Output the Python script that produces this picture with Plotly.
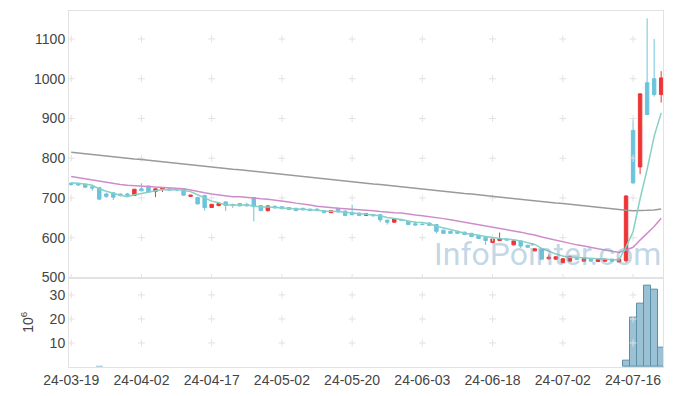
import plotly.graph_objects as go
from plotly.subplots import make_subplots

dates = [
    "24-03-19", "24-03-20", "24-03-21", "24-03-22", "24-03-25", "24-03-26", "24-03-27", "24-03-28", "24-03-29",
    "24-04-01", "24-04-02", "24-04-03", "24-04-04", "24-04-05", "24-04-08", "24-04-09", "24-04-11", "24-04-12",
    "24-04-15", "24-04-16", "24-04-17", "24-04-18", "24-04-19", "24-04-22", "24-04-23", "24-04-24", "24-04-25",
    "24-04-26", "24-04-29", "24-04-30",
    "24-05-02", "24-05-03", "24-05-07", "24-05-08", "24-05-09", "24-05-10", "24-05-13", "24-05-14", "24-05-16",
    "24-05-17", "24-05-20", "24-05-21", "24-05-22", "24-05-23", "24-05-24", "24-05-27", "24-05-28", "24-05-29",
    "24-05-30", "24-05-31",
    "24-06-03", "24-06-04", "24-06-05", "24-06-07", "24-06-10", "24-06-11", "24-06-12", "24-06-13", "24-06-14",
    "24-06-17", "24-06-18", "24-06-19", "24-06-20", "24-06-21", "24-06-24", "24-06-25", "24-06-26", "24-06-27",
    "24-06-28",
    "24-07-01", "24-07-02", "24-07-03", "24-07-04", "24-07-05", "24-07-08", "24-07-09", "24-07-10", "24-07-11",
    "24-07-12", "24-07-15", "24-07-16", "24-07-17", "24-07-18", "24-07-19", "24-07-22",
]

opens = [737, 736, 734, 728, 726, 710, 713, 710, 710, 706, 723, 730, 716, 721, 723, 722, 723, 704, 701, 706,
         676, 681, 690, 683, 686, 684, 701, 681, 668, 679, 678, 676, 674, 674, 672, 672, 668, 663, 674, 667,
         663, 662, 656, 658, 658, 644, 639, 646, 641, 635, 634, 637, 633, 619, 616, 616, 614, 611, 606, 601,
         588, 593, 597, 582, 592, 581, 567, 572, 547, 546, 537, 541, 547, 541, 546, 540, 541, 546, 539, 542,
         870, 778, 990, 1000, 960]
highs = [740, 739, 736, 730, 727, 713, 714, 711, 713, 722, 737, 731, 724, 727, 724, 724, 724, 708, 703, 708,
         685, 689, 692, 686, 687, 688, 702, 682, 682, 681, 679, 677, 675, 675, 673, 673, 669, 669, 676, 668,
         683, 663, 661, 659, 659, 646, 649, 647, 642, 641, 636, 638, 634, 620, 617, 617, 615, 612, 607, 602,
         598, 613, 599, 593, 593, 582, 573, 573, 558, 553, 548, 555, 548, 548, 547, 546, 547, 547, 547, 707,
         898, 962, 1152, 1100, 1019]
lows = [731, 730, 725, 718, 696, 700, 695, 704, 703, 705, 717, 714, 702, 715, 719, 718, 706, 703, 684, 668,
        675, 679, 667, 675, 679, 679, 641, 667, 666, 674, 672, 670, 667, 669, 667, 667, 662, 662, 663, 655,
        656, 655, 655, 654, 639, 633, 638, 643, 632, 631, 632, 630, 611, 610, 610, 610, 607, 602, 597, 582,
        587, 592, 593, 581, 574, 575, 566, 545, 545, 545, 536, 540, 545, 540, 540, 539, 540, 540, 538, 538,
        735, 760, 908, 955, 940]
closes = [734, 733, 727, 725, 697, 704, 702, 706, 707, 722, 718, 715, 723, 725, 720, 720, 707, 707, 685, 676,
          684, 686, 681, 681, 680, 680, 678, 668, 680, 675, 673, 671, 668, 670, 668, 668, 663, 668, 665, 656,
          658, 656, 660, 655, 645, 639, 648, 644, 633, 632, 633, 631, 616, 611, 611, 611, 608, 603, 598, 593,
          597, 597, 594, 592, 579, 576, 572, 546, 551, 552, 547, 552, 546, 547, 541, 545, 546, 541, 546, 705,
          738, 962, 910, 960, 1002]

ma5 = [738, 737, 735, 732, 723, 717, 711, 707, 703, 708, 711, 714, 717, 721, 720, 721, 719, 716, 708, 699,
       692, 688, 682, 682, 682, 682, 680, 677, 677, 676, 675, 673, 673, 671, 670, 669, 667, 667, 666, 664,
       662, 661, 659, 657, 655, 651, 649, 646, 642, 639, 638, 635, 629, 625, 620, 616, 611, 609, 606, 603,
       600, 598, 596, 595, 592, 588, 583, 573, 565, 559, 554, 550, 550, 549, 547, 546, 545, 544, 544, 577,
       615, 698, 772, 855, 914]
ma20 = [754, 751, 748, 745, 742, 739, 736, 734, 732, 731, 730, 729, 728, 727, 726, 725, 723, 720, 716, 713,
        710, 708, 706, 703, 703, 701, 700, 698, 697, 695, 692, 690, 687, 685, 682, 679, 677, 675, 674, 673,
        672, 670, 669, 668, 666, 664, 663, 662, 659, 657, 655, 653, 650, 648, 645, 642, 639, 636, 632, 629,
        626, 623, 620, 617, 614, 610, 607, 602, 598, 594, 589, 585, 582, 579, 575, 572, 569, 566, 563, 569,
        576, 594, 610, 628, 649]
ma120 = [815, 813, 811, 809, 808, 806, 804, 802, 800, 798, 797, 795, 793, 791, 789, 787, 785, 784, 782, 780,
         778, 776, 774, 772, 771, 769, 767, 765, 763, 761, 760, 758, 756, 754, 752, 750, 748, 747, 745, 743,
         741, 739, 737, 735, 734, 732, 730, 728, 726, 724, 723, 721, 719, 717, 715, 713, 711, 710, 708, 706,
         704, 702, 700, 698, 697, 695, 693, 691, 689, 687, 686, 684, 682, 680, 678, 676, 674, 673, 671, 669,
         668, 668, 669, 670, 672]

volume_m = [0.03, 0.03, 0.03, 0.03, 0.45, 0.03, 0.03, 0.03, 0.03, 0.03, 0.03, 0.03, 0.03, 0.03, 0.03, 0.03,
            0.03, 0.03, 0.03, 0.03, 0.03, 0.03, 0.03, 0.03, 0.03, 0.03, 0.03, 0.03, 0.03, 0.03, 0.03, 0.03,
            0.03, 0.03, 0.03, 0.03, 0.03, 0.03, 0.03, 0.03, 0.03, 0.03, 0.03, 0.03, 0.03, 0.03, 0.03, 0.03,
            0.03, 0.03, 0.03, 0.03, 0.03, 0.03, 0.03, 0.03, 0.03, 0.03, 0.03, 0.03, 0.03, 0.03, 0.03, 0.03,
            0.03, 0.03, 0.03, 0.03, 0.03, 0.03, 0.03, 0.03, 0.03, 0.03, 0.03, 0.03, 0.03, 0.03, 0.03,
            2.5, 20.7, 26.5, 33.8, 32.2, 7.9]

price_ticks = [500, 600, 700, 800, 900, 1000, 1100]
vol_ticks = [10, 20, 30]
tick_dates = dates[::10]

RED = "#ee3535"
BLUE = "#6cc4dc"
GRID = "#e2e2e2"
AXIS = "#e2e2e2"
FONT = dict(family="Liberation Sans, Arial, sans-serif", size=14, color="#444444")

fig = make_subplots(rows=2, cols=1, shared_xaxes=True, vertical_spacing=0,
                    row_heights=[0.749, 0.251])

# grid crosses
gx, gy = [], []
for d in tick_dates:
    for p in price_ticks:
        gx.append(d)
        gy.append(p)
fig.add_trace(go.Scatter(x=gx, y=gy, mode="markers", hoverinfo="skip", showlegend=False,
                         marker=dict(symbol="cross-thin", size=5, line=dict(width=1, color=GRID))),
              row=1, col=1)
vx, vy = [], []
for d in tick_dates:
    for v in vol_ticks:
        vx.append(d)
        vy.append(v)
fig.add_trace(go.Scatter(x=vx, y=vy, mode="markers", hoverinfo="skip", showlegend=False,
                         marker=dict(symbol="cross-thin", size=5, line=dict(width=1, color=GRID))),
              row=2, col=1)

fig.add_trace(go.Candlestick(
    x=dates, open=opens, high=highs, low=lows, close=closes,
    increasing=dict(line=dict(color=RED, width=1), fillcolor=RED),
    decreasing=dict(line=dict(color=BLUE, width=1), fillcolor=BLUE),
    whiskerwidth=0, showlegend=False), row=1, col=1)

fig.add_trace(go.Scatter(x=dates, y=ma120, mode="lines", line=dict(color="#9a9a9a", width=1.5),
                         showlegend=False), row=1, col=1)
fig.add_trace(go.Scatter(x=dates, y=ma20, mode="lines", line=dict(color="#cf8ccc", width=1.5),
                         showlegend=False), row=1, col=1)
fig.add_trace(go.Scatter(x=dates, y=ma5, mode="lines", line=dict(color="#86d0c4", width=1.5),
                         showlegend=False), row=1, col=1)

fig.add_trace(go.Bar(x=dates, y=volume_m, showlegend=False,
                     marker=dict(color="rgba(150,190,210,0.95)",
                                 line=dict(color="#5b8fa8", width=[1 if v > 1 else 0 for v in volume_m]))),
              row=2, col=1)

xr = [-0.31, 84.26]
fig.update_xaxes(type="category", categoryorder="array", categoryarray=dates,
                 range=xr, showgrid=False, zeroline=False, automargin=False,
                 showline=True, linecolor=AXIS, linewidth=1, mirror=True, ticks="",
                 tickmode="array", tickvals=tick_dates, ticktext=tick_dates, tickangle=0,
                 rangeslider=dict(visible=False))
fig.update_xaxes(showticklabels=False, row=1, col=1)
fig.update_xaxes(showticklabels=True, tickfont=FONT, row=2, col=1)

fig.update_yaxes(range=[499.5, 1170.4], tickvals=price_ticks, showgrid=False, zeroline=False,
                 showline=True, linecolor=AXIS, linewidth=1, mirror=True, ticks="",
                 automargin=False, tickfont=FONT, row=1, col=1)
fig.update_yaxes(range=[0, 37.2], tickvals=vol_ticks, showgrid=False, zeroline=False,
                 showline=True, linecolor=AXIS, linewidth=1, mirror=True, ticks="",
                 automargin=False, tickfont=FONT,
                 title=dict(text="10<sup>6</sup>", font=FONT, standoff=12),
                 row=2, col=1)

fig.add_annotation(text="InfoPointer.com", xref="paper", yref="paper", x=0.805, y=0.317,
                   xanchor="center", yanchor="middle", showarrow=False,
                   font=dict(family="Roboto, sans-serif", size=32,
                             color="rgba(120,165,198,0.45)"))

# the page body adds an 8px offset, so the figure is 8px smaller and margins shifted
fig.update_layout(width=665, height=388, margin=dict(l=61, r=10, t=3, b=29),
                  paper_bgcolor="white", plot_bgcolor="white", bargap=0, boxgap=0.3,
                  font=FONT, hovermode=False)

fig.write_html("out.html")
